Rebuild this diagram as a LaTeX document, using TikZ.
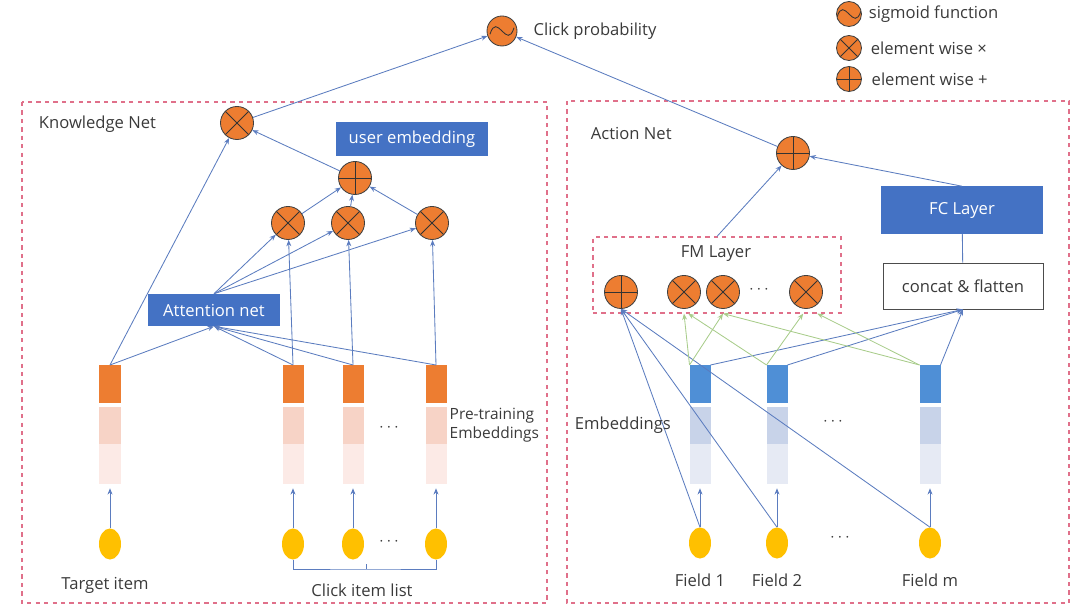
\documentclass[tikz,border=0pt]{standalone}
\usepackage{fontspec}
\setmainfont{Open Sans}
\usetikzlibrary{arrows.meta,positioning,shapes.geometric}
\definecolor{opcol}{HTML}{ED7D31}
\definecolor{boxblue}{HTML}{4472C4}
\definecolor{barblue}{HTML}{4F8FD6}
\definecolor{midblue}{HTML}{C8D3E9}
\definecolor{lowblue}{HTML}{E6EAF4}
\definecolor{barora}{HTML}{ED7D31}
\definecolor{midora}{HTML}{F7D3C6}
\definecolor{lowora}{HTML}{FCEAE6}
\definecolor{seedcol}{HTML}{FFC000}
\definecolor{netred}{HTML}{E0708A}
\definecolor{linecol}{HTML}{5B7CBF}
\definecolor{grncol}{HTML}{A8CC8A}
\definecolor{txtcol}{HTML}{3A3A3A}
\newcommand{\lblfont}{\fontsize{11.8}{14}\selectfont}

\tikzset{
  op/.style={circle, draw=black!75, fill=opcol, inner sep=0pt, minimum size=0.825cm, line width=0.6pt},
  mul/.style={op, path picture={\draw[black!80,line width=0.6pt]
      (path picture bounding box.north west) -- (path picture bounding box.south east)
      (path picture bounding box.north east) -- (path picture bounding box.south west);}},
  add/.style={op, path picture={\draw[black!80,line width=0.6pt]
      (path picture bounding box.north) -- (path picture bounding box.south)
      (path picture bounding box.west) -- (path picture bounding box.east);}},
  sigm/.style={op, minimum size=0.75cm, path picture={\draw[black!80,line width=0.6pt]
      ([shift={(-0.3cm,-0.08cm)}]path picture bounding box.center)
      .. controls ([shift={(-0.12cm,0.5cm)}]path picture bounding box.center)
      and ([shift={(0.12cm,-0.5cm)}]path picture bounding box.center)
      .. ([shift={(0.3cm,0.08cm)}]path picture bounding box.center);}},
  bluebox/.style={fill=boxblue, text=white, inner sep=0pt},
  seed/.style={ellipse, fill=seedcol, inner sep=0pt, minimum width=0.55cm, minimum height=0.775cm},
  seg/.style={rectangle, inner sep=0pt, outer sep=0pt, minimum width=0.525cm},
  otop/.style={seg, fill=barora, minimum height=0.95cm},
  omid/.style={seg, fill=midora, minimum height=0.925cm},
  olow/.style={seg, fill=lowora, minimum height=1cm},
  btop/.style={seg, fill=barblue, minimum height=0.95cm},
  bmid/.style={seg, fill=midblue, minimum height=0.925cm},
  blow/.style={seg, fill=lowblue, minimum height=1cm},
  arr/.style={draw=linecol, line width=0.6pt, -{Stealth[length=4.5pt,width=3.5pt]}},
  grn/.style={draw=grncol, line width=0.6pt, -{Stealth[length=4.5pt,width=3.5pt]}},
  netbox/.style={draw=netred, dashed, line width=0.8pt},
}

\begin{document}
\begin{tikzpicture}[x=0.025cm, y=-0.025cm, every node/.style={font=\lblfont, text=txtcol}]
  \useasboundingbox (0,0) rectangle (1080,609);

  % output and legend
  \node[sigm] (sig) at (502,31) {};
  \node[right=0.28cm of sig] (clk) {Click probability};
  \node[sigm, minimum size=0.625cm] (lsig) at (849,14) {};
  \node[mul, minimum size=0.625cm] (lmul) at (849,48) {};
  \node[add, minimum size=0.625cm] (ladd) at (849,79) {};
  \node[right=0.05cm of lsig] {sigmoid function};
  \node[right=0.1cm of lmul] {element wise ×};
  \node[right=0.12cm of ladd] {element wise +};

  % knowledge net
  \draw[netbox] (22,102) rectangle (547,603);
  \node[anchor=west] at (34,124) {Knowledge Net};
  \node[mul] (kmul) at (237,123) {};
  \node[bluebox, minimum width=3.775cm, minimum height=0.85cm] (uemb) at (412,139) {user embedding};
  \node[add] (kadd) at (355,178) {};
  \node[mul] (km1) at (288,223) {};
  \node[mul] (km2) at (348,223) {};
  \node[mul] (km3) at (432,223) {};
  \node[bluebox, minimum width=3.275cm, minimum height=0.8cm] (att) at (214,310) {Attention net};

  \foreach \n/\x in {t/110, c1/293, c2/353, c3/436} {
    \node[otop] (o\n) at (\x,384) {};
    \node[omid, below=0.1cm of o\n] (om\n) {};
    \node[olow, below=0pt of om\n] (ol\n) {};
    \node[seed] (y\n) at (\x,544) {};
    \draw[arr, shorten >=3pt] (y\n) -- (ol\n);
  }
  \node at (389,428) {$\cdots$};
  \node at (389,542) {$\cdots$};
  \node[anchor=west, align=left, inner xsep=1pt, font=\fontsize{11}{13.5}\selectfont] at (448,425) {Pre-training\\Embeddings};
  \node at (105,585) (tgtlbl) {Target item};
  \coordinate (brk) at (366,569);
  \draw[linecol, line width=0.6pt] (yc1.south) |- (brk) -| (yc3.south);
  \draw[linecol, line width=0.6pt] (brk) -- ++(0,-5);
  \node at (362,590) (clklbl) {Click item list};

  \draw[arr] (ot.north) -- (kmul);
  \draw[arr] (ot.north) -- (att.south);
  \foreach \c in {c1,c2,c3}
    \draw[arr] (o\c.north) -- (att.south);
  \draw[arr] (oc1.north) -- (km1);
  \draw[arr] (oc2.north) -- (km2);
  \draw[arr] (oc3.north) -- (km3);
  \foreach \k in {km1,km2,km3} {
    \draw[arr] (att.north) -- (\k);
    \draw[arr] (\k) -- (kadd);
  }
  \draw[arr] (kadd) -- (kmul);
  \draw[arr] (kmul) -- (sig);

  % action net
  \draw[netbox] (567,101) rectangle (1069,603);
  \node[anchor=west] at (586,133) {Action Net};
  \node[add] (radd) at (793,153) {};
  \node[bluebox, minimum width=4.025cm, minimum height=1.175cm] (fc) at (962,210) {FC Layer};
  \node[draw=black!70, fill=white, line width=0.6pt, inner sep=0pt,
        minimum width=4cm, minimum height=1.15cm] (cf) at (963,286) {concat \& flatten};
  \node[netbox, inner sep=0pt, minimum width=6.2cm, minimum height=1.9cm] (fmbox) at (717,275) {};
  \node at (716,254) {FM Layer};
  \node[add] (fadd) at (621,292) {};
  \node[mul] (fm1) at (684,292) {};
  \node[mul] (fm2) at (723,292) {};
  \node[mul] (fm3) at (806,292) {};
  \node at (759,290) {$\cdots$};

  \foreach \n/\x/\t in {1/700/Field 1, 2/777/Field 2, m/930/Field m} {
    \node[btop] (e\n) at (\x,384) {};
    \node[bmid, below=0.1cm of e\n] (em\n) {};
    \node[blow, below=0pt of em\n] (el\n) {};
    \node[seed] (fd\n) at (\x,543) {};
    \node at (\x,580) {\t};
    \draw[arr, shorten >=3pt] (fd\n) -- (el\n);
    \draw[arr] (fd\n.north) -- (fadd.south);
    \draw[arr] (e\n.north east) -- (cf.south);
  }
  \node at (833,422) {$\cdots$};
  \node at (840,538) {$\cdots$};
  \node[anchor=west] at (570,425) {Embeddings};

  \draw[grn] (e1.north west) -- (fm1 |- fmbox.south);
  \draw[grn] (e2.north west) -- ([xshift=3pt]fm1 |- fmbox.south);
  \draw[grn] (e1.north west) -- (fm2 |- fmbox.south);
  \draw[grn] (em.north west) -- (fm2 |- fmbox.south);
  \draw[grn] (e2.north west) -- ([xshift=-2pt]fm3 |- fmbox.south);
  \draw[grn] (em.north west) -- ([xshift=8pt]fm3 |- fmbox.south);

  \draw[linecol, line width=0.6pt] (cf) -- (fc);
  \draw[arr] (fc.north) -- (radd);
  \draw[arr] (fmbox.north) -- (radd);
  \draw[arr] (radd) -- (sig);
\end{tikzpicture}
\end{document}
